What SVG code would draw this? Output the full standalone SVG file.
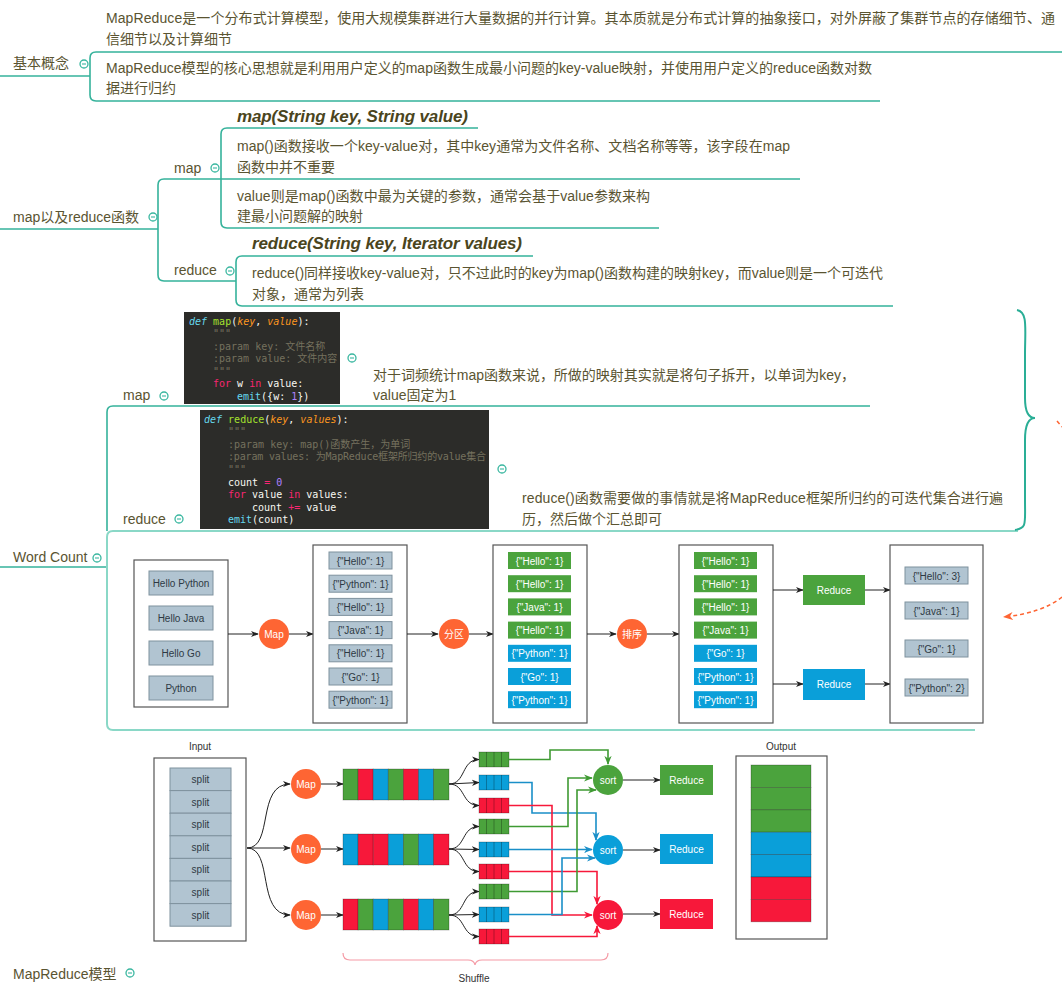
<svg xmlns="http://www.w3.org/2000/svg" xmlns:xlink="http://www.w3.org/1999/xlink" width="1062" height="985" viewBox="0 0 1062 985">
<style>
.t{font-family:"Liberation Sans","Noto Sans CJK SC",sans-serif;font-size:14px;fill:#5a5431}
.ti{font-family:"Liberation Sans","Noto Sans CJK SC",sans-serif;font-size:17px;font-weight:bold;font-style:italic;fill:#4a4520}
.ln{fill:none;stroke:#35b29b;stroke-width:1.6}
.lnl{fill:none;stroke:#8ad8c7;stroke-width:2}
.code{fill:#2c2c29}
.c{font-family:"DejaVu Sans Mono","Noto Sans CJK SC",monospace;font-size:10px;fill:#f8f8f2}
.kw{fill:#66d9ef;font-style:italic}
.fn{fill:#a6e22e}
.pa{fill:#fd971f;font-style:italic}
.cm{fill:#75715e}
.pk{fill:#f92672}
.bi{fill:#66d9ef}
.nu{fill:#ae81ff}
.box{fill:#fff;stroke:#555;stroke-width:1.2}
.gi{fill:#b1c4d1;stroke:#7f929e;stroke-width:1}
.gt{font-family:"Liberation Sans",sans-serif;font-size:10px;fill:#2e3a44;text-anchor:middle}
.g{fill:#4ba33d}
.b{fill:#0a9fd9}
.r{fill:#f7183a}
.wt{font-family:"Liberation Sans","Noto Sans CJK SC",sans-serif;font-size:10px;fill:#fff;text-anchor:middle}
.lb{font-family:"Liberation Sans",sans-serif;font-size:10px;fill:#333;text-anchor:middle}
.or{fill:#fe6533}
.ar{fill:none;stroke:#222;stroke-width:1}
.sg{fill:none;stroke:#3f9a33;stroke-width:1.6}
.sb{fill:none;stroke:#1a8fc8;stroke-width:1.6}
.sr{fill:none;stroke:#f7183a;stroke-width:1.6}
.cell{stroke:rgba(0,0,0,0.3);stroke-width:0.8}
</style>
<defs>
<g id="tog"><circle r="4" fill="#fff" stroke="#3ab7a0" stroke-width="1.3"/><path d="M-2,0H2" stroke="#3ab7a0" stroke-width="1.1"/></g>
<marker id="ak" viewBox="0 0 10 10" refX="9" refY="5" markerWidth="8" markerHeight="8" orient="auto" markerUnits="userSpaceOnUse"><path d="M0,1L10,5L0,9L3,5Z" fill="#222"/></marker>
<marker id="ag" viewBox="0 0 10 10" refX="9" refY="5" markerWidth="9" markerHeight="9" orient="auto" markerUnits="userSpaceOnUse"><path d="M0,1L10,5L0,9L3,5Z" fill="#3f9a33"/></marker>
<marker id="ab" viewBox="0 0 10 10" refX="9" refY="5" markerWidth="9" markerHeight="9" orient="auto" markerUnits="userSpaceOnUse"><path d="M0,1L10,5L0,9L3,5Z" fill="#1a8fc8"/></marker>
<marker id="ar" viewBox="0 0 10 10" refX="9" refY="5" markerWidth="9" markerHeight="9" orient="auto" markerUnits="userSpaceOnUse"><path d="M0,1L10,5L0,9L3,5Z" fill="#f7183a"/></marker>
<marker id="ao" viewBox="0 0 10 10" refX="9" refY="5" markerWidth="10" markerHeight="10" orient="auto" markerUnits="userSpaceOnUse"><path d="M0,1L10,5L0,9L3,5Z" fill="#fe6533"/></marker>
</defs>
<rect width="1062" height="985" fill="#fff"/>

<g id="connectors">
<path class="ln" d="M0,76H90"/>
<path class="ln" d="M1062,52H96Q90,52 90,58V95Q90,101 96,101H880"/>
<path class="ln" d="M0,229H158"/>
<path class="ln" d="M800,179H164Q158,179 158,185V275Q158,281 164,281H236"/>
<path class="ln" d="M478,128H227Q221,128 221,134V222Q221,228 227,228H659"/>
<path class="ln" d="M533,256H242Q236,256 236,262V300Q236,306 242,306H893"/>
<path class="ln" d="M0,567H107"/>
<path class="ln" d="M870,406H113Q107,406 107,412V531"/>
<path class="lnl" d="M1018,531H113Q107,531 107,537V724Q107,730 113,730H975"/>
<path fill="none" stroke="#2aae96" stroke-width="2" d="M1017,310C1028,312 1025,328 1025,355L1025,398C1025,412 1028,418 1035,418C1028,418 1025,425 1025,440L1025,500C1025,524 1027,528 1015,530"/>
<path fill="none" stroke="#fe6533" stroke-width="1.5" stroke-dasharray="4,3" d="M1057,421L1062,427"/>
<path fill="none" stroke="#fe6533" stroke-width="1.5" stroke-dasharray="4,3" marker-end="url(#ao)" d="M1062,597Q1042,613 1004,617"/>
</g>

<g id="n-basic">
<text class="t" x="13" y="68">基本概念</text>
<use href="#tog" x="84" y="64"/>
<text class="t" x="106" y="23" textLength="949">MapReduce是一个分布式计算模型，使用大规模集群进行大量数据的并行计算。其本质就是分布式计算的抽象接口，对外屏蔽了集群节点的存储细节、通</text>
<text class="t" x="106" y="44">信细节以及计算细节</text>
<text class="t" x="106" y="73" textLength="766">MapReduce模型的核心思想就是利用用户定义的map函数生成最小问题的key-value映射，并使用用户定义的reduce函数对数</text>
<text class="t" x="106" y="93">据进行归约</text>
</g>

<g id="n-func">
<text class="t" x="13" y="222">map以及reduce函数</text>
<use href="#tog" x="153" y="217"/>
<text class="t" x="174" y="173">map</text>
<use href="#tog" x="215" y="168"/>
<text class="ti" x="237" y="122" textLength="231">map(String key, String value)</text>
<text class="t" x="237" y="151" textLength="553">map()函数接收一个key-value对，其中key通常为文件名称、文档名称等等，该字段在map</text>
<text class="t" x="237" y="172">函数中并不重要</text>
<text class="t" x="237" y="201" textLength="413">value则是map()函数中最为关键的参数，通常会基于value参数来构</text>
<text class="t" x="237" y="221">建最小问题解的映射</text>
<text class="t" x="174" y="275">reduce</text>
<use href="#tog" x="230" y="271"/>
<text class="ti" x="252" y="249" textLength="270">reduce(String key, Iterator values)</text>
<text class="t" x="252" y="278" textLength="631">reduce()同样接收key-value对，只不过此时的key为map()函数构建的映射key，而value则是一个可迭代</text>
<text class="t" x="252" y="299">对象，通常为列表</text>
</g>

<g id="n-wordcount">
<text class="t" x="13" y="562">Word Count</text>
<use href="#tog" x="97" y="558"/>
</g>

<g id="n-wc-map">
<text class="t" x="123" y="400">map</text>
<use href="#tog" x="164" y="396"/>
<rect class="code" x="184" y="312" width="156" height="92"/>
<text class="c" x="189" y="324.5" xml:space="preserve"><tspan class="kw">def</tspan> <tspan class="fn">map</tspan>(<tspan class="pa">key</tspan>, <tspan class="pa">value</tspan>):</text>
<text class="c cm" x="213" y="337">"""</text>
<text class="c cm" x="213" y="349.5">:param key: 文件名称</text>
<text class="c cm" x="213" y="362">:param value: 文件内容</text>
<text class="c cm" x="213" y="374.5">"""</text>
<text class="c" x="213" y="387" xml:space="preserve"><tspan class="pk">for</tspan> w <tspan class="pk">in</tspan> value:</text>
<text class="c" x="237" y="399.5" xml:space="preserve"><tspan class="bi">emit</tspan>({w: <tspan class="nu">1</tspan>})</text>
<use href="#tog" x="352" y="358"/>
<text class="t" x="373" y="380" textLength="482">对于词频统计map函数来说，所做的映射其实就是将句子拆开，以单词为key，</text>
<text class="t" x="373" y="400">value固定为1</text>
</g>

<g id="n-wc-reduce">
<text class="t" x="123" y="524">reduce</text>
<use href="#tog" x="179" y="519"/>
<rect class="code" x="200" y="410" width="289" height="119"/>
<text class="c" x="204" y="422.5" xml:space="preserve"><tspan class="kw">def</tspan> <tspan class="fn">reduce</tspan>(<tspan class="pa">key</tspan>, <tspan class="pa">values</tspan>):</text>
<text class="c cm" x="228" y="435">"""</text>
<text class="c cm" x="228" y="447.7">:param key: map()函数产生，为单词</text>
<text class="c cm" x="228" y="460.3" textLength="258">:param values: 为MapReduce框架所归约的value集合</text>
<text class="c cm" x="228" y="473">"""</text>
<text class="c" x="228" y="485.5" xml:space="preserve">count <tspan class="pk">=</tspan> <tspan class="nu">0</tspan></text>
<text class="c" x="228" y="498" xml:space="preserve"><tspan class="pk">for</tspan> value <tspan class="pk">in</tspan> values:</text>
<text class="c" x="252" y="510.7" xml:space="preserve">count <tspan class="pk">+=</tspan> value</text>
<text class="c" x="228" y="523.3" xml:space="preserve"><tspan class="bi">emit</tspan>(count)</text>
<use href="#tog" x="502" y="469"/>
<text class="t" x="522" y="503" textLength="481">reduce()函数需要做的事情就是将MapReduce框架所归约的可迭代集合进行遍</text>
<text class="t" x="522" y="524">历，然后做个汇总即可</text>
</g>

<g id="n-wc-diagram">
<rect class="box" x="134" y="560" width="94" height="147"/>
<rect class="gi" x="149" y="571" width="64" height="24"/><text class="gt" x="181" y="587">Hello Python</text>
<rect class="gi" x="149" y="606" width="64" height="24"/><text class="gt" x="181" y="622">Hello Java</text>
<rect class="gi" x="149" y="641" width="64" height="24"/><text class="gt" x="181" y="657">Hello Go</text>
<rect class="gi" x="149" y="676" width="64" height="24"/><text class="gt" x="181" y="692">Python</text>
<path class="ar" marker-end="url(#ak)" d="M228,634H258"/>
<circle class="or" cx="274" cy="634" r="15"/><text class="wt" x="274" y="637.5">Map</text>
<path class="ar" marker-end="url(#ak)" d="M289,634H313"/>
<rect class="box" x="313" y="545" width="94" height="178"/>
<g>
<rect class="gi" x="329" y="552" width="63" height="17"/><text class="gt" x="360.5" y="564.5">{"Hello": 1}</text>
<rect class="gi" x="329" y="575.2" width="63" height="17"/><text class="gt" x="360.5" y="587.7">{"Python": 1}</text>
<rect class="gi" x="329" y="598.4" width="63" height="17"/><text class="gt" x="360.5" y="610.9">{"Hello": 1}</text>
<rect class="gi" x="329" y="621.6" width="63" height="17"/><text class="gt" x="360.5" y="634.1">{"Java": 1}</text>
<rect class="gi" x="329" y="644.8" width="63" height="17"/><text class="gt" x="360.5" y="657.3">{"Hello": 1}</text>
<rect class="gi" x="329" y="668" width="63" height="17"/><text class="gt" x="360.5" y="680.5">{"Go": 1}</text>
<rect class="gi" x="329" y="691.2" width="63" height="17"/><text class="gt" x="360.5" y="703.7">{"Python": 1}</text>
</g>
<path class="ar" marker-end="url(#ak)" d="M407,634H438"/>
<circle class="or" cx="454" cy="634" r="15"/><text class="wt" x="454" y="637.5">分区</text>
<path class="ar" marker-end="url(#ak)" d="M469,634H493"/>
<rect class="box" x="493" y="545" width="94" height="178"/>
<g>
<rect class="g" x="508" y="552" width="63" height="17"/><text class="wt" x="539.5" y="564.5">{"Hello": 1}</text>
<rect class="g" x="508" y="575.2" width="63" height="17"/><text class="wt" x="539.5" y="587.7">{"Hello": 1}</text>
<rect class="g" x="508" y="598.4" width="63" height="17"/><text class="wt" x="539.5" y="610.9">{"Java": 1}</text>
<rect class="g" x="508" y="621.6" width="63" height="17"/><text class="wt" x="539.5" y="634.1">{"Hello": 1}</text>
<rect class="b" x="508" y="644.8" width="63" height="17"/><text class="wt" x="539.5" y="657.3">{"Python": 1}</text>
<rect class="b" x="508" y="668" width="63" height="17"/><text class="wt" x="539.5" y="680.5">{"Go": 1}</text>
<rect class="b" x="508" y="691.2" width="63" height="17"/><text class="wt" x="539.5" y="703.7">{"Python": 1}</text>
</g>
<path class="ar" marker-end="url(#ak)" d="M587,634H616"/>
<circle class="or" cx="632" cy="634" r="15"/><text class="wt" x="632" y="637.5">排序</text>
<path class="ar" marker-end="url(#ak)" d="M647,634H679"/>
<rect class="box" x="679" y="545" width="94" height="178"/>
<g>
<rect class="g" x="694" y="552" width="63" height="17"/><text class="wt" x="725.5" y="564.5">{"Hello": 1}</text>
<rect class="g" x="694" y="575.2" width="63" height="17"/><text class="wt" x="725.5" y="587.7">{"Hello": 1}</text>
<rect class="g" x="694" y="598.4" width="63" height="17"/><text class="wt" x="725.5" y="610.9">{"Hello": 1}</text>
<rect class="g" x="694" y="621.6" width="63" height="17"/><text class="wt" x="725.5" y="634.1">{"Java": 1}</text>
<rect class="b" x="694" y="644.8" width="63" height="17"/><text class="wt" x="725.5" y="657.3">{"Go": 1}</text>
<rect class="b" x="694" y="668" width="63" height="17"/><text class="wt" x="725.5" y="680.5">{"Python": 1}</text>
<rect class="b" x="694" y="691.2" width="63" height="17"/><text class="wt" x="725.5" y="703.7">{"Python": 1}</text>
</g>
<path class="ar" marker-end="url(#ak)" d="M773,590H803"/>
<path class="ar" marker-end="url(#ak)" d="M773,684H803"/>
<rect class="g" x="803" y="575" width="62" height="30"/><text class="wt" x="834" y="593.5">Reduce</text>
<rect class="b" x="803" y="669" width="62" height="31"/><text class="wt" x="834" y="688">Reduce</text>
<path class="ar" marker-end="url(#ak)" d="M865,590H890"/>
<path class="ar" marker-end="url(#ak)" d="M865,684H890"/>
<rect class="box" x="890" y="545" width="93" height="178"/>
<rect class="gi" x="905" y="567" width="63" height="17"/><text class="gt" x="936.5" y="579.5">{"Hello": 3}</text>
<rect class="gi" x="905" y="602" width="63" height="17"/><text class="gt" x="936.5" y="614.5">{"Java": 1}</text>
<rect class="gi" x="905" y="640" width="63" height="17"/><text class="gt" x="936.5" y="652.5">{"Go": 1}</text>
<rect class="gi" x="905" y="679" width="63" height="17"/><text class="gt" x="936.5" y="691.5">{"Python": 2}</text>
</g>

<g id="n-model">
<text class="lb" x="200" y="750">Input</text>
<rect class="box" x="154" y="758" width="92" height="183"/>
<g>
<rect class="gi" x="170" y="768" width="61" height="22.6"/><text class="gt" x="200.5" y="783">split</text>
<rect class="gi" x="170" y="790.6" width="61" height="22.6"/><text class="gt" x="200.5" y="805.6">split</text>
<rect class="gi" x="170" y="813.2" width="61" height="22.6"/><text class="gt" x="200.5" y="828.2">split</text>
<rect class="gi" x="170" y="835.8" width="61" height="22.6"/><text class="gt" x="200.5" y="850.8">split</text>
<rect class="gi" x="170" y="858.4" width="61" height="22.6"/><text class="gt" x="200.5" y="873.4">split</text>
<rect class="gi" x="170" y="881" width="61" height="22.6"/><text class="gt" x="200.5" y="896">split</text>
<rect class="gi" x="170" y="903.6" width="61" height="22.6"/><text class="gt" x="200.5" y="918.6">split</text>
</g>
<path class="ar" stroke="#444" marker-end="url(#ak)" d="M247,848C274,848 256,784 290,784"/>
<path class="ar" stroke="#444" marker-end="url(#ak)" d="M247,848H290"/>
<path class="ar" stroke="#444" marker-end="url(#ak)" d="M247,848C274,848 256,915 290,915"/>
<circle class="or" cx="306" cy="784" r="15"/><text class="wt" x="306" y="787.5">Map</text>
<circle class="or" cx="306" cy="849" r="15"/><text class="wt" x="306" y="852.5">Map</text>
<circle class="or" cx="306" cy="915" r="15"/><text class="wt" x="306" y="918.5">Map</text>
<path class="ar" marker-end="url(#ak)" d="M321,784H343"/>
<path class="ar" marker-end="url(#ak)" d="M321,849H343"/>
<path class="ar" marker-end="url(#ak)" d="M321,915H343"/>
<g class="cell">
<rect class="g" x="343" y="769" width="15.1" height="31"/><rect class="r" x="358.1" y="769" width="15.1" height="31"/><rect class="b" x="373.2" y="769" width="15.1" height="31"/><rect class="g" x="388.3" y="769" width="15.1" height="31"/><rect class="r" x="403.4" y="769" width="15.1" height="31"/><rect class="b" x="418.5" y="769" width="15.1" height="31"/><rect class="g" x="433.6" y="769" width="15.4" height="31"/>
<rect class="b" x="343" y="834" width="15.1" height="31"/><rect class="r" x="358.1" y="834" width="15.1" height="31"/><rect class="r" x="373.2" y="834" width="15.1" height="31"/><rect class="b" x="388.3" y="834" width="15.1" height="31"/><rect class="g" x="403.4" y="834" width="15.1" height="31"/><rect class="b" x="418.5" y="834" width="15.1" height="31"/><rect class="r" x="433.6" y="834" width="15.4" height="31"/>
<rect class="r" x="343" y="899" width="15.1" height="31"/><rect class="g" x="358.1" y="899" width="15.1" height="31"/><rect class="b" x="373.2" y="899" width="15.1" height="31"/><rect class="g" x="388.3" y="899" width="15.1" height="31"/><rect class="r" x="403.4" y="899" width="15.1" height="31"/><rect class="b" x="418.5" y="899" width="15.1" height="31"/><rect class="g" x="433.6" y="899" width="15.4" height="31"/>
</g>
<g class="ar" stroke="#444">
<path marker-end="url(#ak)" d="M449,784C466,784 461,759.5 479,759.5"/>
<path marker-end="url(#ak)" d="M449,784L479,782.5"/>
<path marker-end="url(#ak)" d="M449,784C466,784 461,805.5 479,805.5"/>
<path marker-end="url(#ak)" d="M449,849C466,849 461,826.5 479,826.5"/>
<path marker-end="url(#ak)" d="M449,849L479,849.5"/>
<path marker-end="url(#ak)" d="M449,849C466,849 461,871.5 479,871.5"/>
<path marker-end="url(#ak)" d="M449,915C466,915 461,891.5 479,891.5"/>
<path marker-end="url(#ak)" d="M449,915L479,914.5"/>
<path marker-end="url(#ak)" d="M449,915C466,915 461,936.5 479,936.5"/>
</g>
<g class="cell">
<rect class="g" x="479" y="752" width="30" height="15"/><rect class="b" x="479" y="775" width="30" height="15"/><rect class="r" x="479" y="798" width="30" height="15"/>
<rect class="g" x="479" y="819" width="30" height="15"/><rect class="b" x="479" y="842" width="30" height="15"/><rect class="r" x="479" y="864" width="30" height="15"/>
<rect class="g" x="479" y="884" width="30" height="15"/><rect class="b" x="479" y="907" width="30" height="15"/><rect class="r" x="479" y="929" width="30" height="15"/>
</g>
<path stroke="rgba(0,0,0,0.35)" stroke-width="0.8" d="M486.5,752v15M494,752v15M501.5,752v15M486.5,775v15M494,775v15M501.5,775v15M486.5,798v15M494,798v15M501.5,798v15M486.5,819v15M494,819v15M501.5,819v15M486.5,842v15M494,842v15M501.5,842v15M486.5,864v15M494,864v15M501.5,864v15M486.5,884v15M494,884v15M501.5,884v15M486.5,907v15M494,907v15M501.5,907v15M486.5,929v15M494,929v15M501.5,929v15"/>
<path class="sg" marker-end="url(#ag)" d="M509,759.5H550V750H608V764"/>
<path class="sb" marker-end="url(#ab)" d="M509,782.5H532V813H596V840"/>
<path class="sr" marker-end="url(#ar)" d="M509,805.5H552V915H592"/>
<path class="sg" marker-end="url(#ag)" d="M509,826.5H568V778H592"/>
<path class="sb" marker-end="url(#ab)" d="M509,849.5H592"/>
<path class="sr" marker-end="url(#ar)" d="M509,871.5H597V904"/>
<path class="sg" marker-end="url(#ag)" d="M509,891.5H577V790H596"/>
<path class="sb" marker-end="url(#ab)" d="M509,914.5H562V858H595"/>
<path class="sr" marker-end="url(#ar)" d="M509,936.5H597V926"/>
<circle class="g" cx="608" cy="780" r="15"/><text class="wt" x="608" y="783.5">sort</text>
<circle class="b" cx="608" cy="850" r="15"/><text class="wt" x="608" y="853.5">sort</text>
<circle class="r" cx="608" cy="915" r="15"/><text class="wt" x="608" y="918.5">sort</text>
<path class="ar" marker-end="url(#ak)" d="M623,780H660"/>
<path class="ar" marker-end="url(#ak)" d="M623,850H660"/>
<path class="ar" marker-end="url(#ak)" d="M623,914H660"/>
<rect class="g" x="660" y="765" width="53" height="30"/><text class="wt" x="686.5" y="783.5">Reduce</text>
<rect class="b" x="660" y="834" width="53" height="30"/><text class="wt" x="686.5" y="852.5">Reduce</text>
<rect class="r" x="660" y="899" width="53" height="30"/><text class="wt" x="686.5" y="917.5">Reduce</text>
<text class="lb" x="781" y="750">Output</text>
<rect class="box" x="736" y="756" width="91" height="183"/>
<g class="cell">
<rect class="g" x="751" y="765" width="60" height="22.4"/><rect class="g" x="751" y="787.4" width="60" height="22.4"/><rect class="g" x="751" y="809.8" width="60" height="22.4"/>
<rect class="b" x="751" y="832.2" width="60" height="22.4"/><rect class="b" x="751" y="854.6" width="60" height="22.4"/>
<rect class="r" x="751" y="877" width="60" height="22.4"/><rect class="r" x="751" y="899.4" width="60" height="22.4"/>
</g>
<path fill="none" stroke="#f59aa5" stroke-width="1.2" d="M343,953Q343,960 350,960H468Q474,960 475,965Q476,960 482,960H601Q608,960 608,953"/>
<text class="lb" x="474" y="982">Shuffle</text>
</g>

<g id="n-model-label">
<text class="t" x="13" y="979">MapReduce模型</text>
<use href="#tog" x="130" y="973"/>
</g>
</svg>
